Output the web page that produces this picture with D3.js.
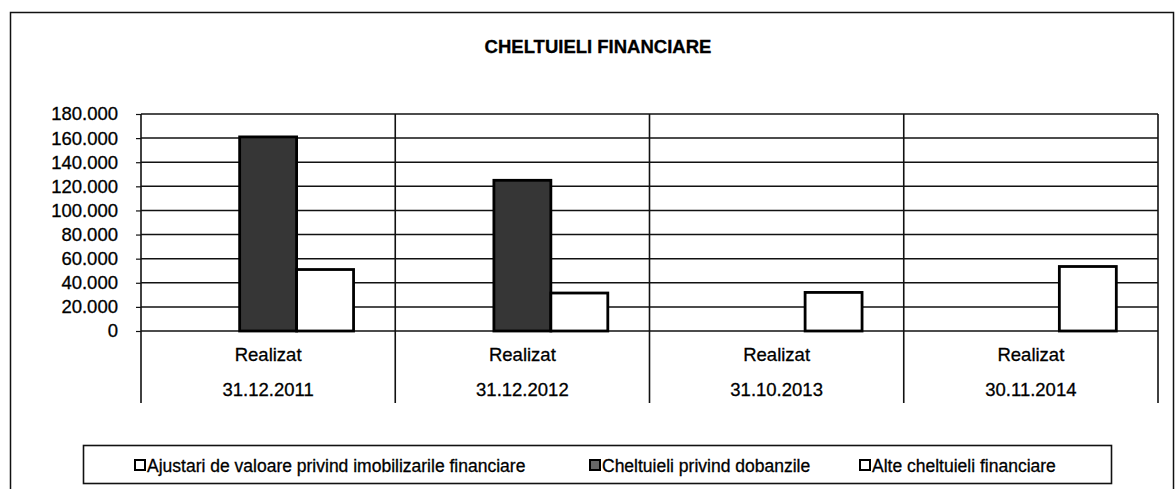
<!DOCTYPE html>
<html>
<head>
<meta charset="utf-8">
<script src="https://cdn.jsdelivr.net/npm/d3@7/dist/d3.min.js"></script>
<style>
  body { margin: 0; background: #fff; }
  svg text { font-family: "Liberation Sans", Arial, sans-serif; fill: #000; stroke: #000; stroke-width: 0.3px; }
</style>
</head>
<body>
<div id="chart"></div>
<script>
var categories = ["31.12.2011", "31.12.2012", "31.10.2013", "30.11.2014"];
var categoryTop = "Realizat";
var seriesNames = [
  "Ajustari de valoare privind imobilizarile financiare",
  "Cheltuieli privind dobanzile",
  "Alte cheltuieli financiare"
];
var ajustari = [0, 0, 0, 0];
var dobanzi = [161000, 125000, 0, 0];
var alte = [51000, 31500, 32000, 53500];
var yTicks = [0, 20000, 40000, 60000, 80000, 100000, 120000, 140000, 160000, 180000];
var title = "CHELTUIELI FINANCIARE";

var seriesValues = [ajustari, dobanzi, alte];
var seriesFill = ["#fff", "#363636", "#fff"];

var width = 1176, height = 489;
var margin = {top: 114, right: 18, bottom: 158, left: 141};
var chartWidth = width - margin.left - margin.right;
var chartHeight = height - margin.top - margin.bottom;

var svg = d3.select("#chart").append("svg")
  .attr("width", width)
  .attr("height", height);

// outer frame
svg.append("rect")
  .attr("x", 10.5).attr("y", 12.5)
  .attr("width", 1163).attr("height", 490)
  .attr("fill", "none").attr("stroke", "#111").attr("stroke-width", 1.5);

svg.append("text")
  .attr("x", 598).attr("y", 53)
  .attr("text-anchor", "middle")
  .attr("font-size", 18.5).attr("font-weight", "bold")
  .text(title);

var g = svg.append("g")
  .attr("transform", `translate(${margin.left}, ${margin.top})`);

var x0 = d3.scaleBand()
  .domain(categories)
  .range([0, chartWidth])
  .padding(0);

var x1 = d3.scaleBand()
  .domain(d3.range(seriesNames.length))
  .range([0, x0.bandwidth()])
  .paddingInner(0)
  .paddingOuter(0.732);

var y = d3.scaleLinear()
  .domain([0, 180000])
  .range([chartHeight, 0]);

var fmt = d3.formatLocale({decimal: ",", thousands: ".", grouping: [3], currency: ["", ""]}).format(",");

// gridlines
g.append("g")
  .attr("class", "grid")
  .selectAll("line")
  .data(yTicks)
  .enter().append("line")
  .attr("x1", 0).attr("x2", chartWidth)
  .attr("y1", d => y(d)).attr("y2", d => y(d))
  .attr("stroke", "#111").attr("stroke-width", 1.5);

var yAxis = d3.axisLeft(y)
  .tickValues(yTicks)
  .tickSize(5)
  .tickPadding(18)
  .tickFormat(d => fmt(d));

var yg = g.append("g").call(yAxis);
yg.select(".domain").remove();
yg.selectAll("line").attr("stroke", "#111").attr("stroke-width", 1.2);
yg.selectAll("text").attr("font-size", 18.5).attr("font-family", "Liberation Sans, Arial, sans-serif");

// vertical lines: axis, category dividers, right border
var dividers = categories.map(c => x0(c)).concat([chartWidth]);
g.selectAll(".divider")
  .data(dividers)
  .enter().append("line")
  .attr("class", "divider")
  .attr("x1", d => d).attr("x2", d => d)
  .attr("y1", 0).attr("y2", chartHeight + 72)
  .attr("stroke", "#111").attr("stroke-width", 1.6);

// bars
var cat = g.selectAll(".cat")
  .data(categories)
  .enter().append("g")
  .attr("class", "cat")
  .attr("transform", d => `translate(${x0(d)}, 0)`);

cat.selectAll("rect")
  .data((c, i) => seriesValues.map((s, k) => ({k: k, v: s[i]})).filter(d => d.v > 0))
  .enter().append("rect")
  .attr("x", d => x1(d.k))
  .attr("y", d => y(d.v))
  .attr("width", x1.bandwidth())
  .attr("height", d => chartHeight - y(d.v))
  .attr("fill", d => seriesFill[d.k])
  .attr("stroke", "#000")
  .attr("stroke-width", 2.8);

// category labels
cat.append("text")
  .attr("x", x0.bandwidth() / 2)
  .attr("y", chartHeight + 30)
  .attr("text-anchor", "middle")
  .attr("font-size", 18.5)
  .text(categoryTop);

cat.append("text")
  .attr("x", x0.bandwidth() / 2)
  .attr("y", chartHeight + 65)
  .attr("text-anchor", "middle")
  .attr("font-size", 18.5)
  .text(d => d);

// legend
var legend = svg.append("g");
legend.append("rect")
  .attr("x", 83.5).attr("y", 445.5)
  .attr("width", 1028).attr("height", 38)
  .attr("fill", "#fff").attr("stroke", "#111").attr("stroke-width", 1.6);

var legendX = [135, 590, 860];
var item = legend.selectAll(".item")
  .data(seriesNames)
  .enter().append("g")
  .attr("class", "item")
  .attr("transform", (d, i) => `translate(${legendX[i]}, 465)`);

item.append("rect")
  .attr("x", 0).attr("y", -5)
  .attr("width", 10).attr("height", 10)
  .attr("fill", (d, i) => i === 1 ? "#666" : "#fff")
  .attr("stroke", "#000").attr("stroke-width", 2);

item.append("text")
  .attr("x", 12).attr("y", 6.5)
  .attr("font-size", 17.5)
  .text(d => d);
</script>
</body>
</html>
